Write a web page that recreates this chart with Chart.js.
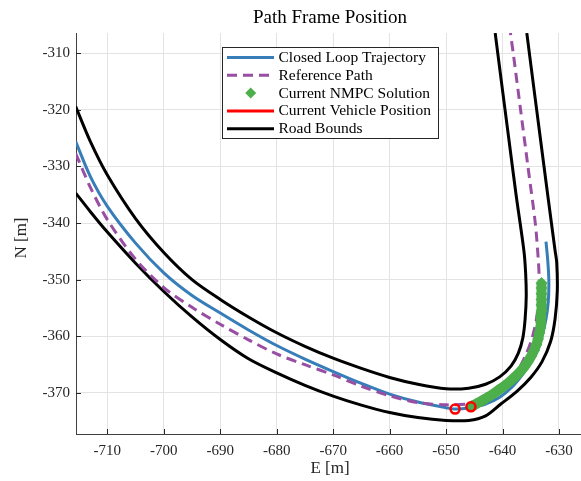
<!DOCTYPE html>
<html>
<head>
<meta charset="utf-8">
<script src="https://cdn.jsdelivr.net/npm/chart.js@4.4.1/dist/chart.umd.min.js"></script>
<style>
  body { margin: 0; background: #fff; }
  #chart { display: block; }
</style>
</head>
<body>
<canvas id="chart" width="581" height="481"></canvas>
<script>
// axis ticks
const eTicks = [-710, -700, -690, -680, -670, -660, -650, -640, -630];
const nTicks = [-370, -360, -350, -340, -330, -320, -310];

// road bounds (inside of the turn / outside of the turn)
const innerE = [-715.6, -713, -710, -705, -700, -695, -690, -685, -680, -675, -670, -665, -660, -655, -650, -646, -643, -640.5, -638.5, -637.2, -636.4, -636, -635.8, -635.9, -636.2, -637.6, -638.9, -640.2, -641.3];
const innerN = [-319.4, -325.6, -331.5, -339.2, -345.2, -350.0, -353.5, -356.6, -359.4, -361.8, -363.9, -365.7, -367.3, -368.5, -369.3, -369.2, -368.5, -367.2, -365.3, -363, -360.3, -357, -353, -349, -345, -335, -325, -315, -306.4];
const outerE = [-715.6, -713, -710, -705, -700, -695, -690, -685, -680, -675, -670, -665, -660, -655, -650, -646, -643, -640.3, -637.5, -635, -633, -631.5, -630.7, -630.3, -630.4, -630.7, -632, -633.3, -634.6, -635.7];
const outerN = [-334.7, -338.0, -341.6, -347.1, -352.1, -356.6, -360.6, -364.0, -366.5, -368.7, -370.6, -372.2, -373.5, -374.4, -374.9, -374.9, -374.1, -372.0, -369.8, -367.3, -364.5, -361, -357, -352, -347, -344.8, -335, -325, -315, -306.4];

// closed loop trajectory
const trajE = [-715.6, -713, -710, -705, -700, -695, -690, -685, -680, -675, -670, -665, -660, -655, -650, -648.4, -645.6, -643, -640.5, -638.3, -636.3, -634.6, -633.3, -632.4, -631.9, -631.8, -632, -632.3];
const trajN = [-325.6, -331.8, -337.05, -343.55, -348.8, -352.8, -355.9, -358.9, -361.65, -364.05, -366.25, -368.35, -370.25, -371.65, -372.65, -372.9, -372.6, -372, -370.8, -369, -366.6, -364, -361, -357.5, -354, -350, -346.5, -343.3];

// reference path
const refE = [-715.6, -713, -710, -705, -700, -695, -690, -685, -680, -675, -670, -665, -660, -655, -650, -646, -644, -641.5, -639.5, -637.6, -636, -634.8, -634, -633.6, -633.5, -633.7, -634.2, -635.5, -636.8, -638.1, -638.6];
const refN = [-327.7, -333.7, -339.4, -346.4, -351.4, -354.9, -357.9, -360.65, -363.15, -365.05, -366.85, -368.85, -370.55, -371.75, -372.15, -372.0, -371.5, -370.4, -368.9, -366.6, -363.6, -360.5, -357, -353.5, -350, -346, -340, -330, -320, -310, -306.4];

// current NMPC solution
const nmpcE = [-633.1, -633.1, -633.1, -633.1, -633.1, -633.1, -633.2, -633.2, -633.3, -633.5, -633.7, -634.0, -634.4, -634.9, -635.5, -636.2, -637.0, -637.9, -638.8, -639.8, -640.8, -641.8, -642.8, -643.8, -644.7, -645.5];
const nmpcN = [-350.6, -351.5, -352.5, -353.5, -354.5, -355.5, -356.5, -357.5, -358.5, -359.5, -360.5, -361.5, -362.5, -363.5, -364.5, -365.5, -366.4, -367.3, -368.1, -368.9, -369.6, -370.3, -370.9, -371.5, -372.0, -372.4];

// current vehicle position
const vehE = [-648.4, -645.6];
const vehN = [-372.9, -372.5];

const legendLabels = ['Closed Loop Trajectory', 'Reference Path', 'Current NMPC Solution', 'Current Vehicle Position', 'Road Bounds'];

function pts(xs, ys) {
  return xs.map((x, i) => ({ x: x, y: ys[i] }));
}

const serif = '"Liberation Serif", "Times New Roman", serif';

const overlay = {
  id: 'overlay',
  beforeDatasetsDraw(chart) {
    const ctx = chart.ctx;
    const a = chart.chartArea;
    const xs = chart.scales.x, ys = chart.scales.y;
    ctx.save();
    ctx.strokeStyle = '#262626';
    ctx.lineWidth = 1;
    ctx.beginPath();
    eTicks.forEach(v => {
      const px = Math.round(xs.getPixelForValue(v)) + 0.5;
      ctx.moveTo(px, a.bottom);
      ctx.lineTo(px, a.bottom - 5);
    });
    nTicks.forEach(v => {
      const py = Math.round(ys.getPixelForValue(v)) + 0.5;
      ctx.moveTo(a.left, py);
      ctx.lineTo(a.left + 5, py);
    });
    ctx.stroke();
    ctx.restore();
  },
  afterDraw(chart) {
    const ctx = chart.ctx;
    ctx.save();
    ctx.fillStyle = '#000';
    ctx.textAlign = 'center';
    ctx.textBaseline = 'middle';
    ctx.font = '19px ' + serif;
    ctx.fillText('Path Frame Position', 330, 18);

    ctx.font = '17px ' + serif;
    ctx.fillStyle = '#262626';
    ctx.fillText('E [m]', 330, 469);
    ctx.save();
    ctx.translate(22, 238);
    ctx.rotate(-Math.PI / 2);
    ctx.fillText('N [m]', 0, 0);
    ctx.restore();

    // legend
    const bx = 222.5, by = 47.5, bw = 216, bh = 91;
    ctx.fillStyle = '#fff';
    ctx.fillRect(bx, by, bw, bh);
    ctx.strokeStyle = '#262626';
    ctx.lineWidth = 1;
    ctx.strokeRect(bx, by, bw, bh);

    ctx.textAlign = 'left';
    ctx.font = '15.5px ' + serif;
    legendLabels.forEach((lab, i) => {
      const ds = chart.data.datasets.find(d => d.label === lab);
      const y = 57.5 + i * 17.8;
      if (ds.legendMarker) {
        ctx.fillStyle = ds.pointBackgroundColor;
        ctx.beginPath();
        ctx.moveTo(250.7, y - 5.5);
        ctx.lineTo(256.2, y);
        ctx.lineTo(250.7, y + 5.5);
        ctx.lineTo(245.2, y);
        ctx.closePath();
        ctx.fill();
      } else {
        ctx.strokeStyle = ds.borderColor;
        ctx.lineWidth = 3;
        ctx.setLineDash(ds.borderDash || []);
        ctx.beginPath();
        ctx.moveTo(227, y);
        ctx.lineTo(274, y);
        ctx.stroke();
        ctx.setLineDash([]);
      }
      ctx.fillStyle = '#000';
      ctx.fillText(lab, 278.5, y + 0.5);
    });
    ctx.restore();
  }
};

const ctx = document.getElementById('chart');

new Chart(ctx, {
  type: 'scatter',
  data: {
    datasets: [
      {
        label: 'Current Vehicle Position',
        data: pts(vehE, vehN),
        showLine: false,
        borderColor: '#ff0000',
        pointStyle: 'circle',
        pointRadius: 4.5,
        pointBorderWidth: 2.5,
        pointBorderColor: '#ff0000',
        pointBackgroundColor: 'rgba(0,0,0,0)',
        order: 0
      },
      {
        label: 'Current NMPC Solution',
        data: pts(nmpcE, nmpcN),
        showLine: true,
        legendMarker: true,
        borderColor: '#4daf4a',
        borderWidth: 10,
        tension: 0.3,
        pointStyle: 'rectRot',
        pointRadius: 6,
        pointBorderWidth: 0,
        pointBackgroundColor: '#4daf4a',
        order: 1
      },
      {
        label: 'Reference Path',
        data: pts(refE, refN),
        showLine: true,
        borderColor: '#984ea3',
        borderWidth: 3,
        borderDash: [10, 6],
        tension: 0.3,
        pointRadius: 0,
        order: 2
      },
      {
        label: 'Closed Loop Trajectory',
        data: pts(trajE, trajN),
        showLine: true,
        borderColor: '#377eb8',
        borderWidth: 3,
        tension: 0.3,
        pointRadius: 0,
        order: 3
      },
      {
        label: 'Road Bounds',
        data: pts(innerE, innerN),
        showLine: true,
        borderColor: '#000',
        borderWidth: 3,
        tension: 0.3,
        pointRadius: 0,
        order: 4
      },
      {
        label: 'Road Bounds 2',
        data: pts(outerE, outerN),
        showLine: true,
        borderColor: '#000',
        borderWidth: 3,
        tension: 0.3,
        pointRadius: 0,
        order: 4
      }
    ]
  },
  options: {
    responsive: false,
    animation: false,
    events: [],
    layout: { autoPadding: false, padding: { top: 33, right: 0, bottom: 0, left: 0 } },
    plugins: { legend: { display: false }, title: { display: false }, tooltip: { enabled: false } },
    scales: {
      x: {
        type: 'linear',
        min: -715.55,
        max: -626.1,
        afterFit: s => { s.height = 47; s.paddingLeft = 0; s.paddingRight = 0; },
        afterBuildTicks: s => { s.ticks = eTicks.map(v => ({ value: v })); },
        grid: { color: '#e3e3e3', drawTicks: false },
        border: { display: true, color: '#404040', width: 1 },
        ticks: { padding: 8, color: '#262626', font: { family: serif, size: 15 } }
      },
      y: {
        type: 'linear',
        min: -377.3,
        max: -306.4,
        afterFit: s => { s.width = 76; s.paddingTop = 0; s.paddingBottom = 0; },
        afterBuildTicks: s => { s.ticks = nTicks.map(v => ({ value: v })); },
        grid: { color: '#e3e3e3', drawTicks: false },
        border: { display: true, color: '#404040', width: 1 },
        ticks: { padding: 6, color: '#262626', font: { family: serif, size: 15 } }
      }
    }
  },
  plugins: [overlay]
});
</script>
</body>
</html>
